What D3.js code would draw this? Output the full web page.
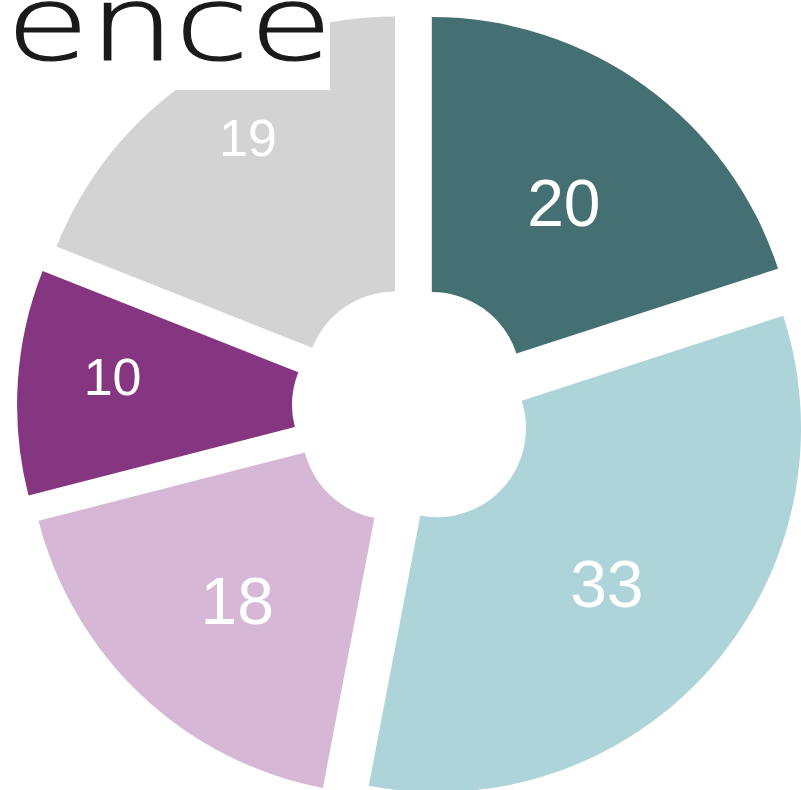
<!DOCTYPE html>
<html>
<head>
<meta charset="utf-8">
<script src="https://cdn.jsdelivr.net/npm/d3@7"></script>
<style>
  html, body { margin: 0; padding: 0; background: #fff; overflow: hidden; }
  svg { display: block; }
</style>
</head>
<body>
<div id="chart"></div>
<script>
// slices, clockwise from 12 o'clock
var categories = ["Segment A", "Segment B", "Segment C", "Segment D", "Segment E"];
var values = [20, 33, 18, 10, 19];
var colors = ["#457073", "#add4d9", "#d6b8d6", "#863580", "#d3d3d3"];
// only the tail of the title shows in the crop
var title = "ence";

// label look per slice (the two small slices get smaller labels, further out)
var labelStyle = {
    "Segment A": {size: 66, r: 222, turn: 0.5},
    "Segment B": {size: 66, r: 230, turn: 1},
    "Segment C": {size: 66, r: 229, turn: -1},
    "Segment D": {size: 52, r: 270, turn: 2.5},
    "Segment E": {size: 52, r: 284, turn: 3}
};

var width = 801, height = 790;
var cx = 413, cy = 407;
var innerR = 89, outerR = 364, explode = 32;

var svg = d3.select("#chart")
    .append("svg")
    .attr("width", width)
    .attr("height", height);

var g = svg.append("g")
    .attr("transform", "translate(" + cx + "," + cy + ")");

var data = categories.map(function(c, i) {
    return {name: c, value: values[i], color: colors[i]};
});

var pie = d3.pie()
    .sort(null)
    .value(function(d) { return d.value; });

var arc = d3.arc()
    .innerRadius(innerR)
    .outerRadius(outerR);

function mid(d) { return (d.startAngle + d.endAngle) / 2; }

function labelAngle(d) {
    return mid(d) + labelStyle[d.data.name].turn * Math.PI / 180;
}

var slices = g.selectAll("g.slice")
    .data(pie(data))
    .enter()
    .append("g")
    .attr("class", "slice")
    .attr("transform", function(d) {
        var a = mid(d);
        return "translate(" + (explode * Math.sin(a)) + "," + (-explode * Math.cos(a)) + ")";
    });

slices.append("path")
    .attr("d", arc)
    .attr("fill", function(d) { return d.data.color; });

slices.append("text")
    .attr("x", function(d) { return labelStyle[d.data.name].r * Math.sin(labelAngle(d)); })
    .attr("y", function(d) { return -labelStyle[d.data.name].r * Math.cos(labelAngle(d)); })
    .attr("dy", "0.36em")
    .attr("text-anchor", "middle")
    .attr("fill", "#fff")
    .style("font-family", "'Liberation Sans', Arial, sans-serif")
    .style("font-size", function(d) { return labelStyle[d.data.name].size + "px"; })
    .text(function(d) { return d.data.value; });

// title sits on a white box over the chart
svg.append("rect")
    .attr("x", 0)
    .attr("y", 0)
    .attr("width", 330)
    .attr("height", 90)
    .attr("fill", "#fff");

svg.append("text")
    .attr("transform", "translate(6,60) scale(1.3,1)")
    .attr("fill", "#1a1a1a")
    .attr("stroke", "#1a1a1a")
    .attr("stroke-width", 1.2)
    .style("font-family", "'DejaVu Sans', sans-serif")
    .style("font-weight", 200)
    .style("font-size", "104px")
    .text(title);
</script>
</body>
</html>
